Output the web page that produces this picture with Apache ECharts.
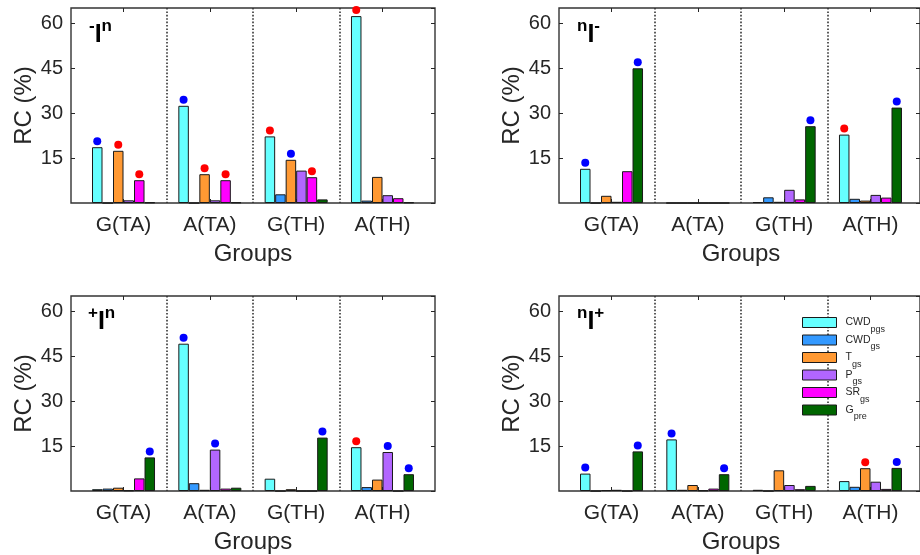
<!DOCTYPE html>
<html>
<head>
<meta charset="utf-8">
<script src="https://cdn.jsdelivr.net/npm/echarts@6/dist/echarts.min.js"></script>
<style>
html, body { margin: 0; padding: 0; background: #fff; }
#chart { width: 920px; height: 555px; }
</style>
</head>
<body>
<div id="chart"></div>
<script>
// ---- data ----
var categories = ['G(TA)', 'A(TA)', 'G(TH)', 'A(TH)'];
var seriesNames = ['CWDpgs', 'CWDgs', 'Tgs', 'Pgs', 'SRgs', 'Gpre'];
var legendMain = ['CWD', 'CWD', 'T', 'P', 'SR', 'G'];
var legendSub = ['pgs', 'gs', 'gs', 'gs', 'gs', 'pre'];
var yMin = 0, yMax = 65, yStep = 15;

// rows = series (CWDpgs .. Gpre), columns = groups
var minusIn = [
    [18.6, 32.4, 22.2, 62.3],
    [0, 0, 2.9, 0.8],
    [17.4, 9.6, 14.4, 8.7],
    [0.9, 0.9, 10.8, 2.6],
    [7.6, 7.6, 8.6, 1.6],
    [0.2, 0.2, 1.2, 0.2]
];
var nIminus = [
    [11.4, 0, 0.3, 22.8],
    [0, 0, 1.9, 1.4],
    [2.4, 0, 0.4, 0.8],
    [0.4, 0, 4.4, 2.7],
    [10.6, 0, 1.2, 1.8],
    [44.9, 0, 25.6, 31.8]
];
var plusIn = [
    [0.6, 49.1, 4.1, 14.6],
    [0.8, 2.6, 0, 1.3],
    [1.1, 0.4, 0.6, 3.8],
    [0.2, 13.8, 0, 13.0],
    [4.2, 0.8, 0, 0],
    [11.2, 1.1, 17.8, 5.6]
];
var nIplus = [
    [5.8, 17.2, 0.4, 3.3],
    [0, 0.4, 0, 1.4],
    [0.3, 2.0, 6.9, 7.6],
    [0.4, 0.2, 2.0, 3.1],
    [0, 0.8, 0.6, 0.7],
    [13.2, 5.6, 1.7, 7.7]
];

// significance dots: [series, group, 'b' blue | 'r' red]
var minusInDots = [[0, 0, 'b'], [2, 0, 'r'], [4, 0, 'r'], [0, 1, 'b'], [2, 1, 'r'], [4, 1, 'r'],
    [0, 2, 'r'], [2, 2, 'b'], [4, 2, 'r'], [0, 3, 'r']];
var nIminusDots = [[0, 0, 'b'], [5, 0, 'b'], [5, 2, 'b'], [0, 3, 'r'], [5, 3, 'b']];
var plusInDots = [[5, 0, 'b'], [0, 1, 'b'], [3, 1, 'b'], [5, 2, 'b'], [0, 3, 'r'], [3, 3, 'b'], [5, 3, 'b']];
var nIplusDots = [[0, 0, 'b'], [5, 0, 'b'], [0, 1, 'b'], [5, 1, 'b'], [2, 3, 'r'], [5, 3, 'b']];

// ---- styling ----
var colors = ['#66ffff', '#3399ff', '#ff9933', '#b266ff', '#ff00ff', '#006600'];
var dotColors = { b: '#0000ff', r: '#ff0000' };
var ink = '#262626';
var font = '"Liberation Sans", Arial, Helvetica, sans-serif';

var panels = [
    { label: '{s|-}{m|I}{s|n}', values: minusIn, dots: minusInDots, left: 71, top: 8, tLeft: 89, tTop: 18 },
    { label: '{s|n}{m|I}{s|-}', values: nIminus, dots: nIminusDots, left: 559, top: 8, tLeft: 577, tTop: 18 },
    { label: '{s|+}{m|I}{s|n}', values: plusIn, dots: plusInDots, left: 71, top: 296, tLeft: 88, tTop: 305 },
    { label: '{s|n}{m|I}{s|+}', values: nIplus, dots: nIplusDots, left: 559, top: 296, tLeft: 577, tTop: 305 }
];
var frameW = 364, frameH = 195, pad = 9.35;

function tickStyle(align) {
    return { show: true, inside: true, alignWithLabel: align, length: 4, lineStyle: { color: ink, width: 1 } };
}

var grid = [], xAxis = [], yAxis = [], series = [], title = [];

panels.forEach(function (pn, p) {
    // outer box with y ticks
    grid.push({ left: pn.left, top: pn.top, width: frameW, height: frameH,
        show: true, borderColor: '#333', borderWidth: 1.4, backgroundColor: 'transparent' });
    // inner plot area for the bar groups (MATLAB xlim pads the groups)
    grid.push({ left: pn.left + pad, top: pn.top, width: frameW - 2 * pad, height: frameH });

    xAxis.push({ gridIndex: 2 * p, type: 'value', min: 0, max: 1, show: false });
    xAxis.push({
        gridIndex: 2 * p + 1, type: 'category', data: categories,
        axisLine: { show: false },
        axisTick: tickStyle(true),
        axisLabel: { fontSize: 21, color: ink, margin: 12, interval: 0, fontFamily: font },
        splitLine: { show: true, interval: 0, showMinLine: false, showMaxLine: false,
            lineStyle: { color: '#333', width: 1.6, type: [1.6, 1.8] } },
        name: 'Groups', nameLocation: 'middle', nameGap: 39,
        nameTextStyle: { fontSize: 24, color: ink, fontFamily: font }
    });
    xAxis.push({
        gridIndex: 2 * p + 1, type: 'category', data: categories, position: 'top',
        axisLine: { show: false }, axisLabel: { show: false }, splitLine: { show: false },
        axisTick: tickStyle(true)
    });

    yAxis.push({
        gridIndex: 2 * p, type: 'value', min: yMin, max: yMax, interval: yStep, position: 'left',
        axisLine: { show: false }, axisTick: tickStyle(false), splitLine: { show: false },
        axisLabel: { fontSize: 20, color: ink, margin: 8, showMinLabel: false, showMaxLabel: false, fontFamily: font },
        name: 'RC (%)', nameLocation: 'middle', nameGap: 31,
        nameTextStyle: { fontSize: 24, color: ink, fontFamily: font }
    });
    yAxis.push({
        gridIndex: 2 * p, type: 'value', min: yMin, max: yMax, interval: yStep, position: 'right',
        axisLine: { show: false }, axisTick: tickStyle(false), splitLine: { show: false }, axisLabel: { show: false }
    });
    yAxis.push({ gridIndex: 2 * p + 1, type: 'value', min: yMin, max: yMax, show: false });

    pn.values.forEach(function (row, s) {
        var data = row.map(function (v, c) {
            var hit = pn.dots.filter(function (d) { return d[0] === s && d[1] === c; })[0];
            if (!hit) return v;
            return {
                value: v,
                label: {
                    show: true, position: 'top', distance: 2, formatter: '{d| }',
                    rich: { d: { width: 8, height: 8, borderRadius: 4, backgroundColor: dotColors[hit[2]] } }
                }
            };
        });
        series.push({
            type: 'bar', name: seriesNames[s],
            xAxisIndex: 3 * p + 1, yAxisIndex: 3 * p + 2,
            data: data, barGap: '0%', barCategoryGap: '27%',
            itemStyle: { color: colors[s], borderColor: '#1a1a1a', borderWidth: 1 },
            silent: true
        });
    });

    title.push({
        text: pn.label, left: pn.tLeft, top: pn.tTop, padding: 0,
        textStyle: {
            rich: {
                m: { fontSize: 25, fontWeight: 'bold', color: '#000', lineHeight: 30, verticalAlign: 'bottom', fontFamily: font },
                s: { fontSize: 17, fontWeight: 'bold', color: '#000', verticalAlign: 'top', fontFamily: font }
            }
        }
    });
});

var chart = echarts.init(document.getElementById('chart'));
chart.setOption({
    animation: false,
    textStyle: { fontFamily: font },
    title: title,
    grid: grid,
    xAxis: xAxis,
    yAxis: yAxis,
    legend: {
        orient: 'vertical', left: 802, top: 317, padding: 0,
        itemWidth: 34, itemHeight: 10, itemGap: 0.5, icon: 'rect',
        selectedMode: false,
        data: seriesNames,
        itemStyle: { borderColor: '#1a1a1a', borderWidth: 1 },
        formatter: function (name) {
            var i = seriesNames.indexOf(name);
            return '{m|' + legendMain[i] + '}{s|' + legendSub[i] + '}';
        },
        textStyle: {
            padding: [0, 0, 0, 4],
            rich: {
                m: { fontSize: 10.5, color: ink, fontFamily: font },
                s: { fontSize: 9, color: ink, padding: [14, 0, 0, 0], fontFamily: font }
            }
        }
    },
    series: series
});
</script>
</body>
</html>
